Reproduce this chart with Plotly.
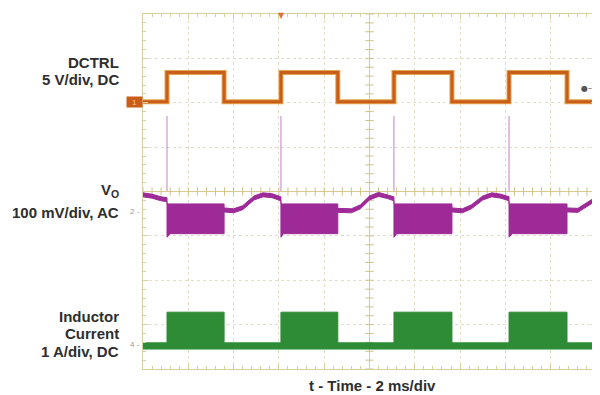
import plotly.graph_objects as go

# ---------------- data (time in ms, 2 ms/div, 10 divisions) ----------------
# DCTRL (5 V/div, DC), ground marker at 6.02 div
dctrl_t = [0, 1.06, 3.58, 6.09, 8.6, 11.08, 13.64, 16.16, 18.72, 20]
dctrl_v = [0, 3.3, 0, 3.3, 0, 3.3, 0, 3.3, 0, 0]

# Vo (100 mV/div, AC), marker at 3.55 div : envelope of the trace
vo_t =   [0,  0.4, 0.8, 1.06, 1.06, 1.2, 3.58, 3.58, 4.0, 4.4, 4.9, 5.3, 5.7, 6.09,
          6.09, 6.2, 8.6, 8.6, 9.2, 9.6, 10.0, 10.4, 10.8, 11.08,
          11.08, 11.2, 13.64, 13.64, 14.1, 14.5, 15.0, 15.4, 15.8, 16.16,
          16.16, 16.3, 18.72, 18.72, 19.2, 19.6, 20]
vo_top = [42, 39, 33, 31, 17, 17, 17, 8, 6, 13, 35, 42, 40, 33,
          17, 17, 17, 7, 6, 15, 35, 43, 38, 33,
          17, 17, 17, 8, 6, 15, 35, 42, 39, 33,
          17, 17, 17, 8, 7, 20, 33]
vo_bot = [33, 30, 24, 22, -58, -50, -50, -1, -3, 4, 26, 33, 31, 24,
          -58, -50, -50, -2, -3, 6, 26, 34, 29, 24,
          -58, -50, -50, -1, -3, 6, 26, 33, 30, 24,
          -58, -50, -50, -1, -2, 11, 24]
# spikes on Vo at each DCTRL rising edge
spike_t = [1.06, 6.09, 11.08, 16.16]
spike_lo = 46
spike_hi = 215

# Inductor current (1 A/div, DC), marker at 0.55 div : envelope
il_t =   [0, 1.06, 1.06, 3.58, 3.58, 6.09, 6.09, 8.6, 8.6, 11.08, 11.08, 13.64,
          13.64, 16.16, 16.16, 18.72, 18.72, 20]
il_top = [0.04, 0.04, 0.73, 0.73, 0.04, 0.04, 0.73, 0.73, 0.04, 0.04, 0.73, 0.73,
          0.04, 0.04, 0.73, 0.73, 0.04, 0.04]
il_bot = [-0.10] * len(il_t)

# channel settings: (offset in div, units per div)
DCTRL_OFF, DCTRL_SCALE = 6.02, 5.0
VO_OFF, VO_SCALE = 3.55, 100.0
IL_OFF, IL_SCALE = 0.55, 1.0

ORANGE = "#c95d1a"
PURPLE = "#9e2a98"
GREEN = "#2f8c36"
GRID = "#e4dfc4"
FRAME = "#d6cf9e"


def to_div(vals, off, scale):
    return [off + v / scale for v in vals]


fig = go.Figure()

# centre crosshair with minor ticks
fig.add_trace(go.Scatter(x=[0, 20], y=[4, 4], mode="lines",
                         line=dict(color="#d8cc8c", width=1), hoverinfo="skip"))
fig.add_trace(go.Scatter(x=[10, 10], y=[0, 8], mode="lines",
                         line=dict(color="#d8cc8c", width=1), hoverinfo="skip"))
tick_x = [i * 0.4 for i in range(51)]
tick_y = [i * 0.2 for i in range(41)]
fig.add_trace(go.Scatter(x=tick_x, y=[4] * len(tick_x), mode="markers",
                         marker=dict(symbol="line-ns", size=6,
                                     line=dict(color="#cfc386", width=1)),
                         hoverinfo="skip"))
fig.add_trace(go.Scatter(x=[10] * len(tick_y), y=tick_y, mode="markers",
                         marker=dict(symbol="line-ew", size=6,
                                     line=dict(color="#cfc386", width=1)),
                         hoverinfo="skip"))

# Inductor current envelope
il_top_d = to_div(il_top, IL_OFF, IL_SCALE)
il_bot_d = to_div(il_bot, IL_OFF, IL_SCALE)
fig.add_trace(go.Scatter(x=il_t + il_t[::-1], y=il_top_d + il_bot_d[::-1],
                         mode="lines", fill="toself", fillcolor=GREEN,
                         line=dict(color=GREEN, width=1), hoverinfo="skip"))

# Vo spikes
sx, sy = [], []
for t in spike_t:
    sx += [t, t, None]
    sy += [VO_OFF + spike_lo / VO_SCALE, VO_OFF + spike_hi / VO_SCALE, None]
fig.add_trace(go.Scatter(x=sx, y=sy, mode="lines",
                         line=dict(color="#c283c0", width=1), hoverinfo="skip"))

# Vo envelope
vo_top_d = to_div(vo_top, VO_OFF, VO_SCALE)
vo_bot_d = to_div(vo_bot, VO_OFF, VO_SCALE)
fig.add_trace(go.Scatter(x=vo_t + vo_t[::-1], y=vo_top_d + vo_bot_d[::-1],
                         mode="lines", fill="toself", fillcolor=PURPLE,
                         line=dict(color=PURPLE, width=1), hoverinfo="skip"))

# DCTRL
fig.add_trace(go.Scatter(x=dctrl_t, y=to_div(dctrl_v, DCTRL_OFF, DCTRL_SCALE),
                         mode="lines", line=dict(color="#e6a550", width=5, shape="hv"),
                         hoverinfo="skip"))
fig.add_trace(go.Scatter(x=dctrl_t, y=to_div(dctrl_v, DCTRL_OFF, DCTRL_SCALE),
                         mode="lines", line=dict(color=ORANGE, width=3, shape="hv"),
                         hoverinfo="skip"))

# ---------------- layout ----------------
# the page body adds an 8 px offset, so the figure is 8 px smaller
OFF = 8
W, H = 600 - OFF, 395 - OFF
# plot area in screen pixels
X0, X1, Y0, Y1 = 143, 596, 14, 369
L, R, T, B = X0 - OFF, W - (X1 - OFF), Y0 - OFF, H - (Y1 - OFF)


def px(x):
    return (x - X0) / (X1 - X0)


def py(y):
    return (Y1 - y) / (Y1 - Y0)


FONT = dict(family="Liberation Sans, Arial, sans-serif", size=15,
            color="#2e2e2e", weight="bold")

ann = []


def label(text, x, y, xanchor="right", font=FONT):
    ann.append(dict(text=text, x=px(x), y=py(y), xref="paper", yref="paper",
                    xanchor=xanchor, yanchor="middle", showarrow=False, font=font))


label("DCTRL", 121, 62)
label("5 V/div, DC", 121, 80)
label("V<sub>O</sub>", 121, 190)
label("100 mV/div, AC", 121, 213)
label("Inductor", 121, 316)
label("Current", 121, 333)
label("1 A/div, DC", 121, 351)
label("t - Time - 2 ms/div", 372, 385, xanchor="center")

small = dict(family="Liberation Sans, Arial, sans-serif", size=8, color="#9a9a9a")
label("2 -", 142, 212, font=small)
label("4 -", 142, 344, font=small)

# channel 1 marker box
ann.append(dict(text="1", x=px(143), y=py(102), xref="paper", yref="paper",
                xanchor="right", yanchor="middle", showarrow=False,
                font=dict(family="Liberation Sans, Arial, sans-serif", size=8,
                          color="#f2c79a"),
                bgcolor=ORANGE, width=15, height=10, borderpad=0))
# trigger level marker (right) and trigger position (top)
ann.append(dict(text="●–", x=px(594), y=py(88), xref="paper", yref="paper",
                xanchor="right", yanchor="middle", showarrow=False,
                font=dict(family="DejaVu Sans", size=8, color="#555555")))
ann.append(dict(text="▼", x=px(281), y=py(16), xref="paper", yref="paper",
                xanchor="center", yanchor="middle", showarrow=False,
                font=dict(family="DejaVu Sans", size=8, color="#d8753a")))

axis_common = dict(showticklabels=False, showline=True, linecolor=FRAME,
                   linewidth=1, mirror="allticks", ticks="inside", ticklen=5,
                   tickcolor=FRAME, showgrid=True, gridcolor=GRID,
                   griddash="dot", gridwidth=1, zeroline=False, fixedrange=True)

fig.update_layout(
    width=W, height=H,
    margin=dict(l=L, r=R, t=T, b=B),
    paper_bgcolor="white", plot_bgcolor="white",
    showlegend=False,
    xaxis=dict(range=[0, 20], dtick=2, tick0=0,
               minor=dict(ticks="inside", ticklen=3, dtick=0.4,
                          tickcolor=FRAME, showgrid=False),
               **axis_common),
    yaxis=dict(range=[0, 8], dtick=1, tick0=0,
               minor=dict(ticks="inside", ticklen=3, dtick=0.2,
                          tickcolor=FRAME, showgrid=False),
               **axis_common),
    annotations=ann,
)

fig.write_html("out.html")
